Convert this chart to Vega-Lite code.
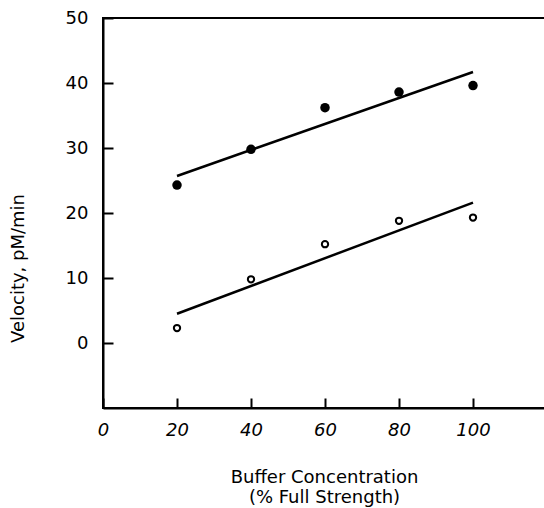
{
  "$schema": "https://vega.github.io/schema/vega-lite/v6.json",
  "width": 444,
  "height": 390,
  "autosize": "none",
  "padding": {"left": 103, "top": 18, "right": 0, "bottom": 100},
  "config": {
    "font": "DejaVu Sans",
    "view": {"stroke": "black", "strokeWidth": 2},
    "axis": {"grid": false, "domainColor": "black", "domainWidth": 2, "tickColor": "black", "tickWidth": 2, "labelColor": "black", "titleColor": "black"}
  },
  "datasets": {
    "points": [
      {"conc": 20, "velocity": 24.3, "series": "filled"},
      {"conc": 40, "velocity": 29.8, "series": "filled"},
      {"conc": 60, "velocity": 36.2, "series": "filled"},
      {"conc": 80, "velocity": 38.6, "series": "filled"},
      {"conc": 100, "velocity": 39.6, "series": "filled"},
      {"conc": 20, "velocity": 2.3, "series": "open"},
      {"conc": 40, "velocity": 9.8, "series": "open"},
      {"conc": 60, "velocity": 15.2, "series": "open"},
      {"conc": 80, "velocity": 18.8, "series": "open"},
      {"conc": 100, "velocity": 19.3, "series": "open"}
    ],
    "fits": [
      {"conc": 20, "velocity": 25.7, "series": "filled"},
      {"conc": 100, "velocity": 41.7, "series": "filled"},
      {"conc": 20, "velocity": 4.5, "series": "open"},
      {"conc": 100, "velocity": 21.6, "series": "open"}
    ]
  },
  "encoding": {
    "x": {
      "field": "conc", "type": "quantitative",
      "scale": {"domain": [0, 120], "nice": false},
      "axis": {
        "values": [0, 20, 40, 60, 80, 100],
        "tickSize": -10,
        "labelPadding": 23,
        "labelFontSize": 18,
        "labelFontStyle": "italic",
        "labelFlush": false,
        "title": ["Buffer Concentration", "(% Full Strength)"],
        "titleFontSize": 18,
        "titleFontWeight": "normal",
        "titleLineHeight": 20,
        "titleX": 221,
        "titleY": 60,
        "titleBaseline": "top",
        "titleAnchor": "middle"
      }
    },
    "y": {
      "field": "velocity", "type": "quantitative",
      "scale": {"domain": [-10, 50], "nice": false, "zero": false},
      "axis": {
        "values": [0, 10, 20, 30, 40, 50],
        "tickSize": -10,
        "labelPadding": 25,
        "labelFontSize": 18,
        "labelFlush": false,
        "title": "Velocity, pM/min",
        "titleFontSize": 18,
        "titleFontWeight": "normal",
        "titleAngle": -90,
        "titleX": -85,
        "titleY": 250,
        "titleAnchor": "middle",
        "titleAlign": "center",
        "titleBaseline": "middle"
      }
    }
  },
  "layer": [
    {
      "data": {"name": "fits"},
      "mark": {"type": "line", "color": "black", "strokeWidth": 2.5},
      "encoding": {"detail": {"field": "series"}}
    },
    {
      "data": {"name": "points"},
      "transform": [{"filter": "datum.series === 'filled'"}],
      "mark": {"type": "point", "shape": "circle", "filled": true, "color": "black", "opacity": 1, "size": 90}
    },
    {
      "data": {"name": "points"},
      "transform": [{"filter": "datum.series === 'open'"}],
      "mark": {"type": "point", "shape": "circle", "filled": false, "color": "black", "fill": "white", "opacity": 1, "strokeWidth": 2, "size": 40}
    }
  ]
}
